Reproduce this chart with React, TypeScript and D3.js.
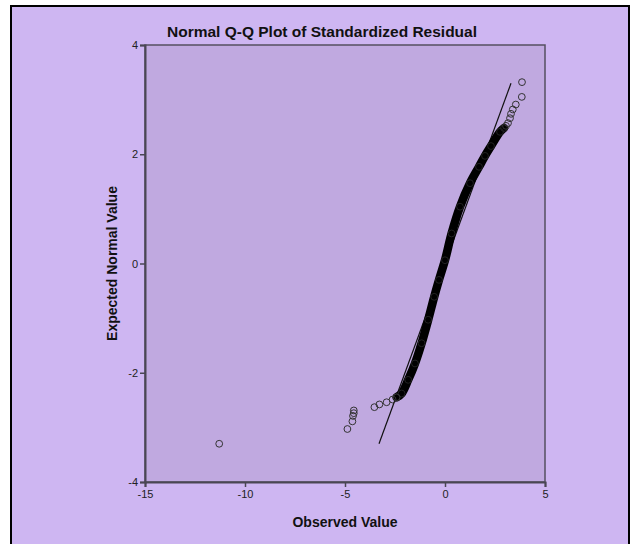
import React, { useEffect, useRef } from 'react';
import * as d3 from 'd3';

// dense part of the Q-Q curve (observed value, expected normal value)
const denseObserved = [-2.42, -2.17, -1.84, -1.5, -1.17, -0.84, -0.54, -0.3, 0, 0.33, 0.75, 1.25, 1.7, 2.0, 2.3, 2.75, 2.95];
const denseExpected = [-2.45, -2.38, -2.13, -1.83, -1.46, -1.03, -0.61, -0.3, 0.06, 0.55, 1.04, 1.47, 1.77, 1.97, 2.15, 2.41, 2.48];

// single points in the tails
const tailObserved = [-11.29, -4.88, -4.63, -4.6, -4.56, -4.56, -3.53, -3.28, -2.92, -2.62, -2.42, 3.05, 3.15, 3.25, 3.3, 3.39, 3.54, 3.84, 3.85];
const tailExpected = [-3.3, -3.03, -2.89, -2.79, -2.74, -2.69, -2.63, -2.58, -2.54, -2.49, -2.45, 2.52, 2.57, 2.66, 2.74, 2.82, 2.91, 3.05, 3.32];

const refLine = [-3.3, 3.3];
const xTicks = [-15, -10, -5, 0, 5];
const yTicks = [-4, -2, 0, 2, 4];

const W = 632, H = 544;
const plot = { left: 145, right: 545, top: 45, bottom: 482 };

export default function App() {
    const ref = useRef<SVGSVGElement>(null);

    useEffect(() => {
        const svg = d3.select(ref.current);
        svg.selectAll('*').remove();

        const x = d3.scaleLinear().domain([-15, 5]).range([plot.left, plot.right]);
        const y = d3.scaleLinear().domain([-4, 4]).range([plot.bottom, plot.top]);

        // outer frame
        svg.append('rect').attr('width', W).attr('height', H).attr('fill', '#fff');
        svg.append('rect')
            .attr('x', 11).attr('y', 6).attr('width', 618).attr('height', 560)
            .attr('fill', '#ceb6f2').attr('stroke', '#000').attr('stroke-width', 2);

        // plot area
        svg.append('rect')
            .attr('x', plot.left).attr('y', plot.top)
            .attr('width', plot.right - plot.left).attr('height', plot.bottom - plot.top)
            .attr('fill', '#c0a9e0').attr('stroke', '#555060').attr('stroke-width', 1.5);

        // axes (plain hyphen for negatives, like the original)
        const fmt = (d: any) => String(d);
        const xAxis = svg.append('g')
            .attr('transform', `translate(0,${plot.bottom})`)
            .call(d3.axisBottom(x).tickValues(xTicks).tickSize(5).tickPadding(3).tickFormat(fmt));
        const yAxis = svg.append('g')
            .attr('transform', `translate(${plot.left},0)`)
            .call(d3.axisLeft(y).tickValues(yTicks).tickSize(5).tickPadding(2).tickFormat(fmt));
        [xAxis, yAxis].forEach(a => {
            a.select('.domain').attr('stroke', '#4a4654').attr('stroke-width', 2);
            a.selectAll('.tick line').attr('stroke', '#4a4654').attr('stroke-width', 1.5);
            a.selectAll('.tick text')
                .attr('fill', '#222')
                .style('font-family', 'Liberation Sans, Arial, sans-serif')
                .style('font-size', '11px');
        });

        // reference line
        svg.append('line')
            .attr('x1', x(refLine[0])).attr('y1', y(refLine[0]))
            .attr('x2', x(refLine[1])).attr('y2', y(refLine[1]))
            .attr('stroke', '#111').attr('stroke-width', 1.2);

        // dense band of overlapping circles
        const dense = denseObserved.map((d, i) => [d, denseExpected[i]] as [number, number]);
        const line = d3.line<[number, number]>()
            .x(d => x(d[0])).y(d => y(d[1]))
            .curve(d3.curveCatmullRom);
        svg.append('path')
            .attr('d', line(dense))
            .attr('fill', 'none').attr('stroke', '#000')
            .attr('stroke-width', 8.5).attr('stroke-linecap', 'round');

        svg.selectAll('.dense')
            .data(dense)
            .enter()
            .append('circle')
            .attr('cx', d => x(d[0])).attr('cy', d => y(d[1]))
            .attr('r', 3.4)
            .attr('fill', 'none').attr('stroke', '#222').attr('stroke-width', 1);

        // tail points
        svg.selectAll('.tail')
            .data(tailObserved.map((d, i) => [d, tailExpected[i]]))
            .enter()
            .append('circle')
            .attr('cx', d => x(d[0])).attr('cy', d => y(d[1]))
            .attr('r', 3.4)
            .attr('fill', 'none').attr('stroke', '#333').attr('stroke-width', 1);

        // titles
        svg.append('text')
            .attr('x', 322).attr('y', 37)
            .attr('text-anchor', 'middle')
            .style('font-family', 'Liberation Sans, Arial, sans-serif')
            .style('font-size', '15.5px').style('font-weight', 'bold')
            .attr('fill', '#111')
            .text('Normal Q-Q Plot of Standardized Residual');

        svg.append('text')
            .attr('x', (plot.left + plot.right) / 2).attr('y', 527)
            .attr('text-anchor', 'middle')
            .style('font-family', 'Liberation Sans, Arial, sans-serif')
            .style('font-size', '14px').style('font-weight', 'bold')
            .attr('fill', '#111')
            .text('Observed Value');

        svg.append('text')
            .attr('transform', `translate(117,${(plot.top + plot.bottom) / 2}) rotate(-90)`)
            .attr('text-anchor', 'middle')
            .style('font-family', 'Liberation Sans, Arial, sans-serif')
            .style('font-size', '14px').style('font-weight', 'bold')
            .attr('fill', '#111')
            .text('Expected Normal Value');
    }, []);

    return (
        <svg ref={ref} width={W} height={H}
            style={{ position: 'absolute', left: 0, top: 0, display: 'block' }} />
    );
}
